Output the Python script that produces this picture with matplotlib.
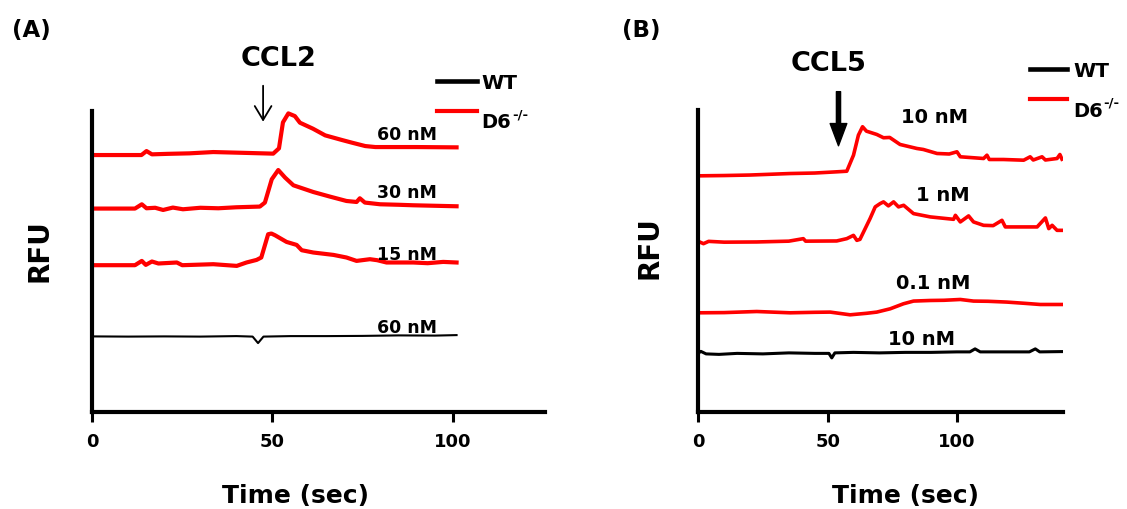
import matplotlib
matplotlib.use("Agg")
import matplotlib.pyplot as plt
from matplotlib.lines import Line2D

W, H = 1127, 510

# ---- panel A: CCL2 ----
a60_t = [0, 13.7, 15.1, 16.6, 21, 27, 33.6, 42, 50.2, 51.8, 52.9, 54.4, 56.2, 57.6, 61.2, 64.6, 69.3, 72, 75.7, 78.5, 90, 101]
a60_y = [257.6, 257.6, 261.6, 258.3, 258.8, 259.3, 260.6, 259.8, 259.0, 264.3, 290.3, 299.3, 296.6, 290.0, 284.0, 277.3,
         272.6, 270.0, 266.6, 265.6, 265.6, 265.3]

a30_t = [0, 11.9, 13.8, 15.1, 17.5, 19.7, 22.4, 25.2, 30, 35, 40, 46.5, 47.9, 49.8, 51.6, 53.5, 55.8, 61.3, 65.9, 70.5,
         73.3, 74.2, 75.6, 79.8, 85, 89, 95, 101]
a30_y = [204, 204, 208.3, 204.3, 204.8, 202.6, 205, 203.3, 204.8, 204.3, 205.3, 206, 210, 233.3, 242.6, 235, 227.3, 220.6,
         216, 211.6, 210.6, 214.3, 210, 208.3, 207.8, 207.3, 206.8, 206.3]

a15_t = [0, 11.9, 13.8, 14.9, 16.6, 18.4, 23.5, 25, 33.6, 40.1, 42.8, 45.6, 46.9, 48.8, 49.7, 50.7, 53.9, 56.7, 58.1,
         61.3, 66.9, 70.5, 73.3, 77, 79, 81.6, 89, 93, 97.3, 101]
a15_y = [147.3, 147.3, 151.6, 147.6, 151, 149, 150, 147.3, 148.3, 146.6, 150, 152.6, 155, 178.3, 179, 177.3, 170.6, 167.6,
         162.3, 160, 157.6, 155, 151.6, 153.3, 152.3, 150, 150, 149.3, 150.6, 150]

awt_t = [0, 10, 20, 30, 40, 44.5, 46, 47.5, 55, 65, 75, 85, 95, 101]
awt_y = [76, 75.8, 76, 75.8, 76.3, 75.8, 69.3, 75.8, 76.3, 76.3, 76.5, 77, 76.8, 77.3]

# ---- panel B: CCL5 ----
b10_t = [0, 10, 20, 35.5, 45, 53.5, 57.4, 60, 61.9, 63.5, 65, 69, 71.6, 74, 78, 84.5, 87, 92.3, 97, 100, 101.3, 105,
         110.3, 111.6, 112.5, 118, 125.8, 128.3, 129.5, 132.9, 134.2, 138.7, 139.8, 140.6]
b10_y = [236.0, 236.3, 236.8, 238.3, 238.8, 240.0, 240.6, 256.6, 276.6, 285.0, 280.6, 277.3, 274.0, 274.3, 267.3, 263.3,
         262.3, 258.3, 257.8, 260.0, 255.0, 254.3, 253.3, 256.6, 252.3, 252.3, 251.6, 255.0, 251.8, 255.0, 251.8, 253.3,
         257.3, 252.6]

b1_t = [0, 2, 4, 10, 22.6, 35, 40.6, 41.5, 53.5, 57.4, 60, 61.3, 62.5, 66.4, 68.4, 70.3, 71.6, 73.5, 75.5, 77.4, 79.4,
        83.2, 89.7, 98.7, 99.4, 101.3, 104.5, 106.4, 110.3, 114, 117.4, 118.7, 125.8, 131, 134.2, 135.5, 136.8, 138.7, 140.6]
b1_y = [170.6, 168.3, 170.6, 169.8, 170.0, 170.8, 173.3, 170.8, 171.0, 173.3, 176.6, 171.6, 172.6, 193.3, 205.0, 208.3,
        210.0, 206.0, 210.0, 205.0, 206.6, 198.3, 195.0, 192.6, 196.6, 190.0, 196.0, 190.0, 186.6, 186.3, 191.6, 185.0,
        185.0, 185.0, 194.0, 183.3, 186.6, 181.6, 181.6]

b01_t = [0, 10, 22.6, 35.5, 45, 51, 58.7, 65, 69, 74.2, 79.3, 83.2, 89.7, 95, 101.3, 106.4, 112, 119.3, 126, 132.2, 140.6]
b01_y = [99.3, 99.5, 100.6, 99.3, 99.8, 100.0, 97.3, 98.8, 100.0, 103.3, 108.3, 111.0, 111.6, 111.8, 112.6, 111.0, 110.8,
         110.0, 108.8, 107.6, 107.6]

bwt_t = [0, 1, 3, 8, 15, 25, 35, 45, 50.5, 51.6, 52.8, 60, 70, 80, 90, 100, 105, 107, 109, 120, 128, 130.3, 132, 140.6]
bwt_y = [59.0, 60.8, 58.3, 57.8, 58.8, 58.3, 59.3, 58.8, 58.8, 54.3, 59.3, 59.8, 59.3, 59.8, 59.8, 60.3, 60.3, 63.3,
         60.3, 60.3, 60.3, 63.3, 60.3, 60.6]

xticks = [0, 50, 100]
RED = "#ff0000"

fig = plt.figure(figsize=(W / 100, H / 100), dpi=100)


def px_axes(x0, x1, ytop, ybot):
    return fig.add_axes([x0 / W, 1 - ybot / H, (x1 - x0) / W, (ybot - ytop) / H])


def style(ax, xmax):
    ax.set_xlim(0, xmax)
    ax.set_ylim(0, 302)
    for s in ["top", "right"]:
        ax.spines[s].set_visible(False)
    for s in ["left", "bottom"]:
        ax.spines[s].set_linewidth(3)
    ax.set_yticks([])
    ax.set_xticks(xticks)
    ax.tick_params(axis="x", direction="out", length=7, width=2.2, pad=7.5, labelsize=13)
    for lab in ax.get_xticklabels():
        lab.set_fontweight("bold")


# panel A
axA = px_axes(92, 545, 111.7, 413.3)
style(axA, 125.5)
axA.plot(a60_t, a60_y, color=RED, lw=3)
axA.plot(a30_t, a30_y, color=RED, lw=3)
axA.plot(a15_t, a15_y, color=RED, lw=3)
axA.plot(awt_t, awt_y, color="black", lw=1.5)
for txt, yb in [("60 nM", 273.3), ("30 nM", 216), ("15 nM", 154), ("60 nM", 80)]:
    axA.text(87.3, yb, txt, ha="center", va="baseline", fontsize=12.5, fontweight="bold")
axA.annotate("", xy=(47.4, 291), xytext=(47.4, 327), annotation_clip=False,
             arrowprops=dict(arrowstyle="->, head_length=0.5, head_width=0.3", lw=1.3,
                             color="black", mutation_scale=20, shrinkA=0, shrinkB=0))

# panel B
axB = px_axes(698.3, 1063, 110.7, 413.3)
style(axB, 141)
axB.plot(b10_t, b10_y, color=RED, lw=2.6)
axB.plot(b1_t, b1_y, color=RED, lw=2.6)
axB.plot(b01_t, b01_y, color=RED, lw=2.6)
axB.plot(bwt_t, bwt_y, color="black", lw=2.2)
for txt, xc, yb in [("10 nM", 91.5, 289.3), ("1 nM", 94.5, 211.6), ("0.1 nM", 91, 124), ("10 nM", 86.2, 68.3)]:
    axB.text(xc, yb, txt, ha="center", va="baseline", fontsize=14, fontweight="bold")
axB.annotate("", xy=(54.2, 266), xytext=(54.2, 320), annotation_clip=False,
             arrowprops=dict(arrowstyle="simple, head_length=0.8, head_width=0.6, tail_width=0.15",
                             color="black", mutation_scale=20, shrinkA=0, shrinkB=0))


def ftext(x, y, s, **kw):
    fig.text(x / W, 1 - y / H, s, fontweight="bold", **kw)


# panel letters and chemokine names
ftext(31.7, 36.7, "(A)", ha="center", va="baseline", fontsize=16.5)
ftext(641.7, 36.7, "(B)", ha="center", va="baseline", fontsize=16.5)
ftext(279, 66, "CCL2", ha="center", va="baseline", fontsize=19.5)
ftext(828.3, 70.7, "CCL5", ha="center", va="baseline", fontsize=19.5)

# axis titles
ftext(40, 251, "RFU", ha="center", va="center", rotation=90, fontsize=20)
ftext(650, 247.5, "RFU", ha="center", va="center", rotation=90, fontsize=20)
ftext(296, 503, "Time (sec)", ha="center", va="baseline", fontsize=18)
ftext(905.8, 503, "Time (sec)", ha="center", va="baseline", fontsize=18)

# legends
for x0, x1, yk, yr, xt, bw, bd, bs in [
    (436.7, 476.7, 81.7, 111.7, 481.7, 89.3, 128.3, 119),
    (1030, 1066.7, 70, 100, 1073, 77.3, 117.3, 106),
]:
    fig.add_artist(Line2D([x0 / W, x1 / W], [1 - yk / H, 1 - yk / H], color="black", lw=3.3))
    fig.add_artist(Line2D([x0 / W, x1 / W], [1 - yr / H, 1 - yr / H], color=RED, lw=3))
    ftext(xt, bw, "WT", ha="left", va="baseline", fontsize=14.5)
    ftext(xt, bd, "D6", ha="left", va="baseline", fontsize=14)
    ftext(xt + 30.5, bs, "-/-", ha="left", va="baseline", fontsize=9.5)

fig.savefig("out.png", dpi=100)
